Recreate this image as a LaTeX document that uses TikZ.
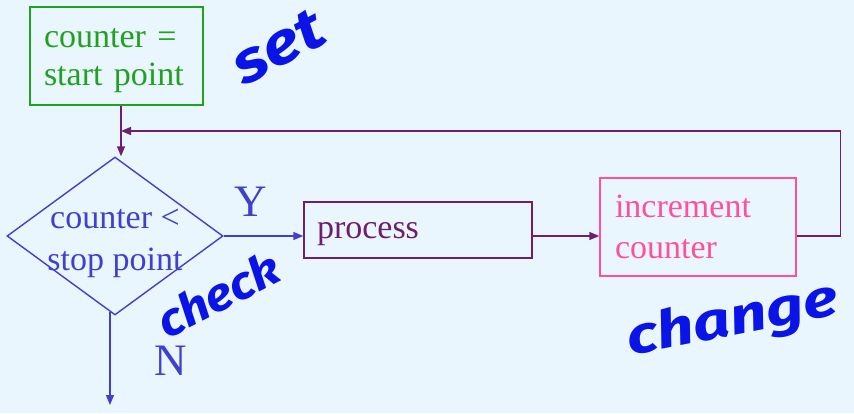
\documentclass[tikz,border=0pt]{standalone}
\usepackage{fontspec}
\setmainfont{Liberation Serif}
\newfontfamily\hand{Fira Sans}
\usetikzlibrary{shapes.geometric,arrows.meta,calc}
\definecolor{bgc}{RGB}{234,246,254}
\definecolor{gc}{RGB}{34,160,34}
\definecolor{bc}{RGB}{64,64,204}
\definecolor{pc}{RGB}{110,30,110}
\definecolor{kc}{RGB}{255,80,160}
\definecolor{hc}{RGB}{10,20,230}
\begin{document}
\begin{tikzpicture}[x=1pt,y=-1pt,
  boxstyle/.style={draw, line width=1.4pt, align=left, inner ysep=0pt},
  gbox/.style={boxstyle, draw=gc, text=gc, minimum height=98pt, text width=145pt, inner xsep=14pt, text height=24pt, text depth=42pt, font=\fontsize{34}{38}\selectfont},
  pbox/.style={boxstyle, draw=pc, text=pc, minimum height=56pt, text width=202pt, inner xsep=13pt, text height=26pt, text depth=10pt, font=\fontsize{34}{41}\selectfont},
  ibox/.style={boxstyle, draw=kc, text=kc, minimum height=98pt, text width=166pt, inner xsep=15pt, text height=24pt, text depth=44pt, font=\fontsize{34}{41}\selectfont},
  dia/.style={diamond, draw=bc, line width=1.4pt, minimum width=216pt, minimum height=158pt, inner sep=0pt},
  dtext/.style={text=bc, align=center, inner sep=0pt, font=\fontsize{34}{42}\selectfont},
  yn/.style={text=bc, inner sep=0pt, font=\fontsize{45}{45}\selectfont},
  hw/.style={text=hc, inner sep=0pt, font=\hand\bfseries\itshape\fontsize{52}{52}\selectfont},
  parr/.style={draw=pc, line width=1.4pt, -{Triangle[length=10pt,width=8pt]}},
  barr/.style={draw=bc, line width=1.4pt, -{Triangle[length=10pt,width=8pt]}}
]
\fill[bgc] (0,0) rectangle (854,413);
\useasboundingbox (0,0) rectangle (854,413);

\node[gbox] (init) at (116.5,56) {counter =\\start point};
\node[dia] (dec) at (115,236) {};
\node[dtext] (dectext) at (115,243) {counter <\\stop point};
\node[pbox] (proc) at (418,230) {process};
\node[ibox] (inc) at (698,227) {increment\\counter};

\node[yn] (ylab) at (251,202) {Y};
\node[yn] (nlab) at (171,361) {N};

\coordinate (loopin) at (121,131);
\coordinate (nend) at (110,405);

\draw[parr] (init.south -| loopin) -- (dec.north -| loopin);
\draw[barr] (dec.east) -- (dec.east -| proc.west);
\draw[parr] (dec.east -| proc.east) -- (dec.east -| inc.west);
\draw[parr] (dec.east -| inc.east) -- ++(44,0) |- (loopin);
\draw[barr] ($(dec.south)!5/108!(dec.west)$) coordinate (nstart) -- (nstart |- nend);

\node[hw, rotate=28, font=\hand\bfseries\itshape\fontsize{58}{58}\selectfont] (set) at (278,47) {\scalebox{1.2}[1]{set}};
\node[hw, rotate=27, font=\hand\bfseries\itshape\fontsize{46}{46}\selectfont] (chk) at (218,294) {\scalebox{1.1}[1]{check}};
\node[hw, rotate=11] (chg) at (733,321) {\scalebox{1.25}[1]{change}};
\end{tikzpicture}
\end{document}
